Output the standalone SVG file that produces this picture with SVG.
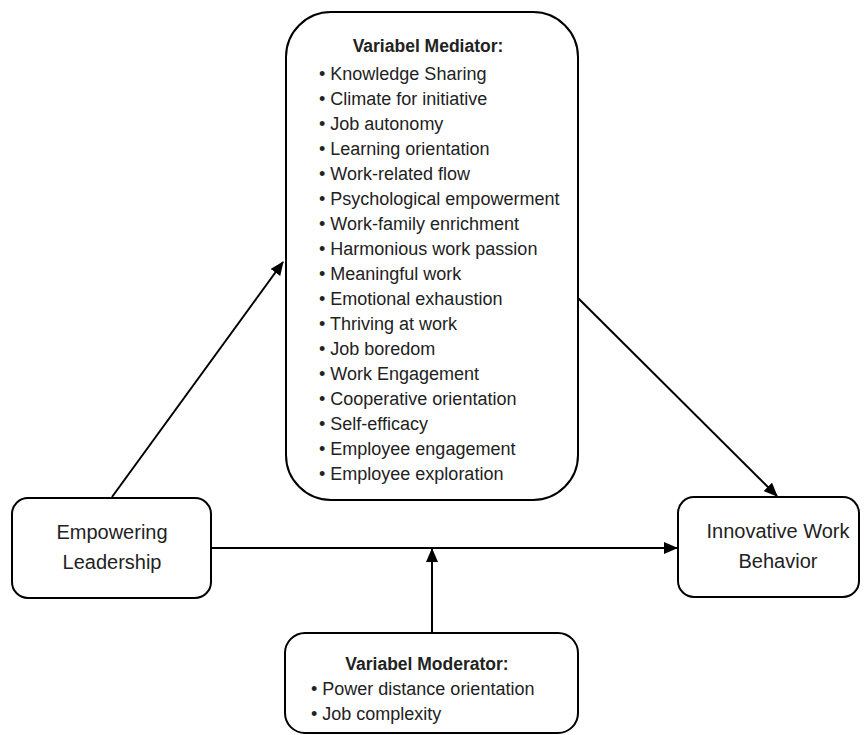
<svg xmlns="http://www.w3.org/2000/svg" width="866" height="735" viewBox="0 0 866 735">
<defs>
<marker id="arr" markerWidth="14" markerHeight="12" refX="13" refY="6" orient="auto" markerUnits="userSpaceOnUse" viewBox="0 0 14 12">
<path d="M0,0 L14,6 L0,12 z" fill="#000"/>
</marker>
</defs>
<style>
.box{fill:#fff;stroke:#000;stroke-width:2}
.t{font-family:"Liberation Sans",Arial,sans-serif;font-size:18px;fill:#222}
.n{font-family:"Liberation Sans",Arial,sans-serif;font-size:20px;fill:#222}
.h{font-family:"Liberation Sans",Arial,sans-serif;font-size:17.5px;font-weight:bold;fill:#222}
.c{stroke:#000;stroke-width:2;fill:none}
</style>
<rect width="866" height="735" fill="#fff"/>
<g id="connectors">
<line class="c" x1="112" y1="497" x2="283" y2="262" marker-end="url(#arr)"/>
<line class="c" x1="578" y1="298" x2="777" y2="496" marker-end="url(#arr)"/>
<line class="c" x1="212" y1="548" x2="677" y2="548" marker-end="url(#arr)"/>
<line class="c" x1="432" y1="633" x2="432" y2="549" marker-end="url(#arr)"/>
</g>
<g id="mediator">
<rect class="box" x="286" y="12" width="292" height="488" rx="45" ry="45"/>
<text class="h" x="428" y="52" text-anchor="middle">Variabel Mediator:</text>
<g class="t">
<text x="319" y="80">• Knowledge Sharing</text>
<text x="319" y="105">• Climate for initiative</text>
<text x="319" y="130">• Job autonomy</text>
<text x="319" y="155">• Learning orientation</text>
<text x="319" y="180">• Work-related flow</text>
<text x="319" y="205">• Psychological empowerment</text>
<text x="319" y="230">• Work-family enrichment</text>
<text x="319" y="255">• Harmonious work passion</text>
<text x="319" y="280">• Meaningful work</text>
<text x="319" y="305">• Emotional exhaustion</text>
<text x="319" y="330">• Thriving at work</text>
<text x="319" y="355">• Job boredom</text>
<text x="319" y="380">• Work Engagement</text>
<text x="319" y="405">• Cooperative orientation</text>
<text x="319" y="430">• Self-efficacy</text>
<text x="319" y="455">• Employee engagement</text>
<text x="319" y="480">• Employee exploration</text>
</g>
</g>
<g id="empowering">
<rect class="box" x="12" y="498" width="199" height="100" rx="16" ry="16"/>
<text class="n" x="112" y="539" text-anchor="middle">Empowering</text>
<text class="n" x="112" y="569" text-anchor="middle">Leadership</text>
</g>
<g id="innovative">
<rect class="box" x="678" y="497" width="181" height="100" rx="16" ry="16"/>
<text class="n" x="778" y="538" text-anchor="middle">Innovative Work</text>
<text class="n" x="778" y="568" text-anchor="middle">Behavior</text>
</g>
<g id="moderator">
<rect class="box" x="285" y="633" width="293" height="100" rx="20" ry="20"/>
<text class="h" x="427" y="670" text-anchor="middle">Variabel Moderator:</text>
<text class="t" x="311" y="695">• Power distance orientation</text>
<text class="t" x="311" y="720">• Job complexity</text>
</g>
</svg>
